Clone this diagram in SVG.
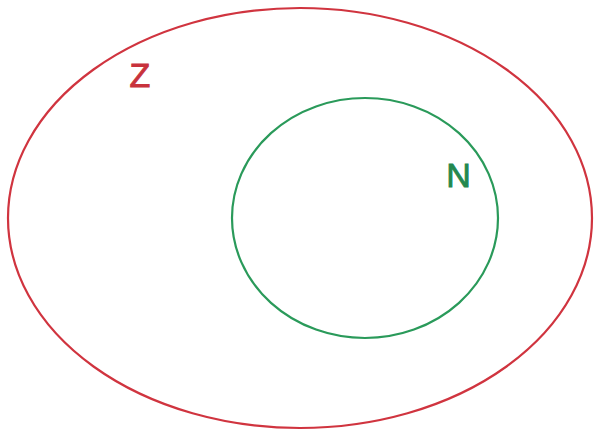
<svg xmlns="http://www.w3.org/2000/svg" width="598" height="432" viewBox="0 0 598 432">
<style>
.set{fill:none;stroke-width:2.2}
.lbl{font-family:"Liberation Sans",Arial,sans-serif;font-size:34px;stroke-width:0.9}
</style>
<rect width="598" height="432" fill="#ffffff"/>
<g id="Z">
<ellipse class="set" cx="300" cy="218" rx="292" ry="210" stroke="#d0343f"/>
<text class="lbl" x="140" y="87" text-anchor="middle" fill="#c8323c" stroke="#c8323c">Z</text>
</g>
<g id="N">
<ellipse class="set" cx="365" cy="218" rx="133" ry="120" stroke="#2a9a5a"/>
<text class="lbl" x="458.5" y="187" text-anchor="middle" fill="#24884f" stroke="#24884f">N</text>
</g>
<g id="connectors"/>
</svg>
